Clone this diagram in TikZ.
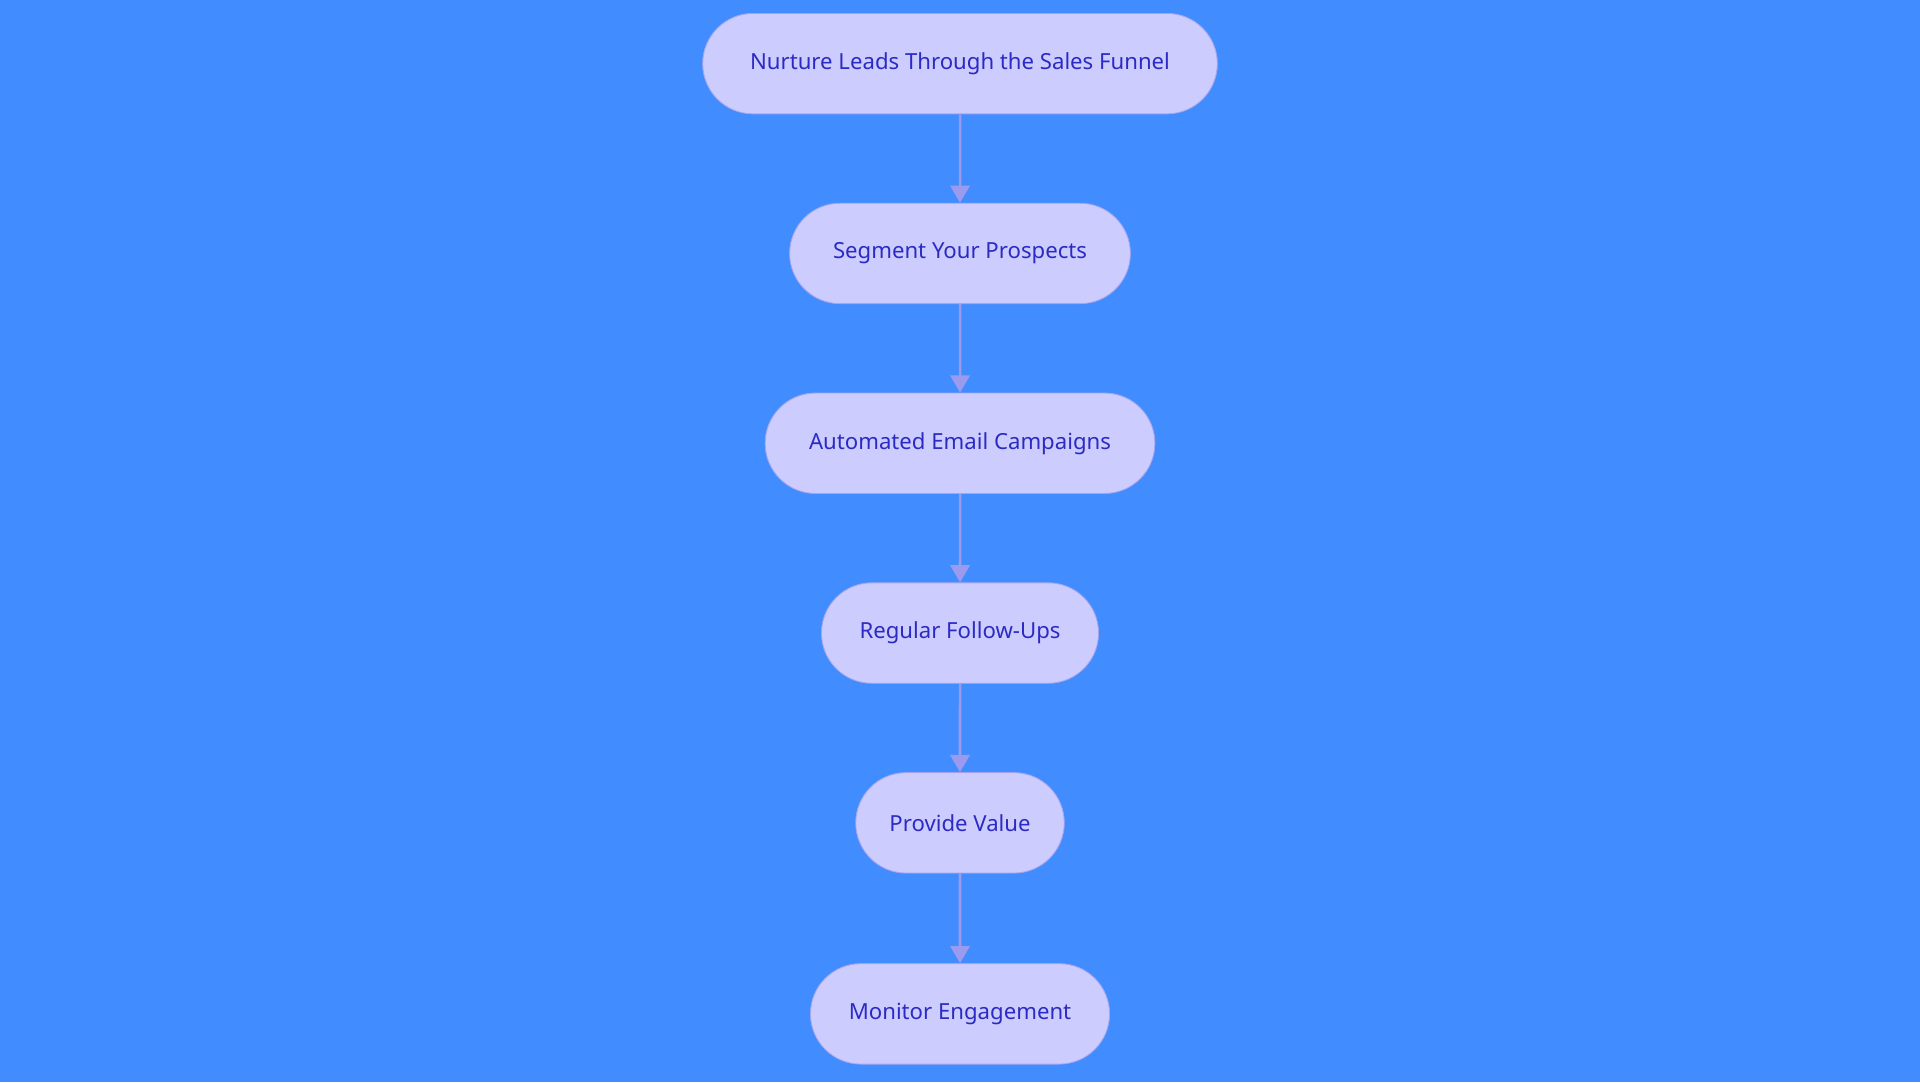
\documentclass[tikz,border=0pt]{standalone}
\usepackage{fontspec}
\setmainfont{Noto Sans}
\usetikzlibrary{arrows.meta, shapes.misc, positioning}
\definecolor{bgblue}{HTML}{418CFF}
\definecolor{stepfill}{HTML}{CCCCFF}
\definecolor{stepline}{HTML}{A5A5EE}
\definecolor{steptext}{HTML}{2B2BC4}
\definecolor{arrowcol}{HTML}{9A9AEE}
\tikzset{
    stage/.style={rounded rectangle, draw=stepline, fill=stepfill, text=steptext,
        minimum height=1.64cm, font=\fontsize{10.3}{12}\selectfont},
    flow/.style={draw=arrowcol, line width=1.2pt, -{Triangle[length=8pt,width=9pt]}}
}
\begin{document}
\begin{tikzpicture}
\fill[bgblue] (0,0) rectangle (31.36,17.68);
\useasboundingbox (0,0) rectangle (31.36,17.68);

\node[stage, minimum width=8.64cm] (nurture) at (15.68,16.64) {Nurture Leads Through the Sales Funnel};
\node[stage, minimum width=5.80cm] (segment) at (15.68,13.54) {Segment Your Prospects};
\node[stage, minimum width=6.60cm] (email) at (15.68,10.44) {Automated Email Campaigns};
\node[stage, minimum width=4.76cm] (follow) at (15.68,7.34) {Regular Follow-Ups};
\node[stage, minimum width=3.64cm] (value) at (15.68,4.24) {Provide Value};
\node[stage, minimum width=5.12cm] (monitor) at (15.68,1.12) {Monitor Engagement};

\draw[flow] (nurture) -- (segment);
\draw[flow] (segment) -- (email);
\draw[flow] (email) -- (follow);
\draw[flow] (follow) -- (value);
\draw[flow] (value) -- (monitor);
\end{tikzpicture}
\end{document}
